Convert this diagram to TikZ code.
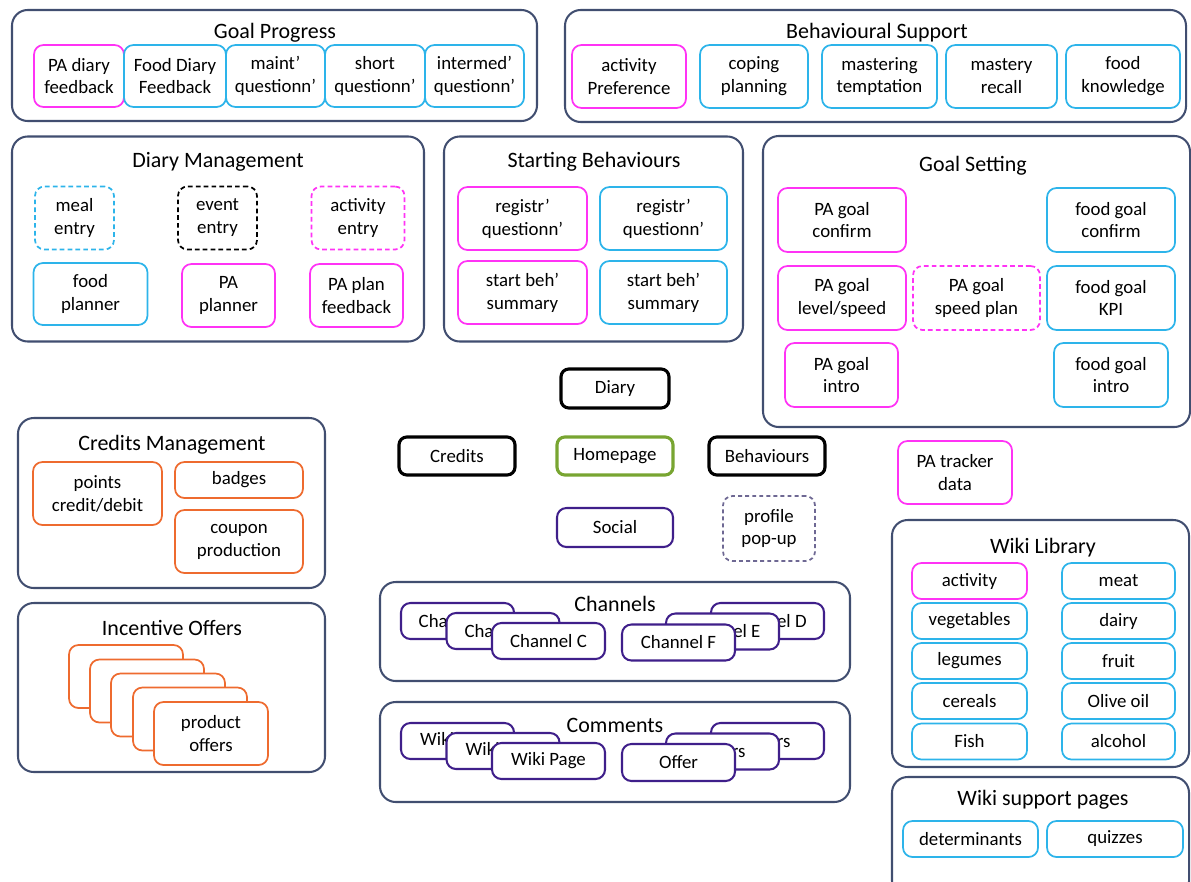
\documentclass[tikz,border=0pt]{standalone}
\usepackage{fontspec}
\setmainfont{Carlito}
\usepackage{tikz}
\usetikzlibrary{calc}
\definecolor{frame}{HTML}{414E70}
\definecolor{foodc}{HTML}{2DB4EA}
\definecolor{pac}{HTML}{FF33F5}
\definecolor{credc}{HTML}{EE6B2F}
\definecolor{socc}{HTML}{3F1F8A}
\definecolor{homec}{HTML}{78A531}
\definecolor{popc}{HTML}{6E6893}
\tikzset{
  sz/.style 2 args={minimum width=#1*0.0224cm, minimum height=#2*0.0224cm},
  area/.style={draw=frame, line width=1.3pt, rounded corners=10pt, inner sep=0pt},
  areatitle/.style={font=\fontsize{14}{16}\selectfont},
  box/.style={draw, fill=white, rounded corners=6pt, line width=1.1pt, align=center,
      inner sep=1pt, font=\fontsize{12}{14.6}\selectfont},
  food/.style={box, draw=foodc},
  pa/.style={box, draw=pac},
  cred/.style={box, draw=credc},
  soc/.style={box, draw=socc, line width=1.3pt},
  nav/.style={box, draw=black, line width=2pt, rounded corners=5pt},
  home/.style={nav, draw=homec},
  foodd/.style={food, dash pattern=on 3pt off 2pt},
  pad/.style={pa, dash pattern=on 3pt off 2pt},
  blackd/.style={box, draw=black, dash pattern=on 3pt off 2pt},
  popup/.style={box, draw=popc, dash pattern=on 2.5pt off 2pt},
}

\begin{document}
\begin{tikzpicture}[x=0.0224cm, y=-0.0224cm]
  \useasboundingbox (0,0) rectangle (1191,881);

  % goal progress
  \node[area, sz={525}{111}] (gp) at (274.5,65.5) {};
  \node[areatitle] (gpT) at (275,33) {Goal Progress};
  \node[pa, sz={90}{62}] (pdf) at (79,76) {PA diary\\feedback};
  \node[food, sz={102}{62}] (fdf) at (175,76) {Food Diary\\Feedback};
  \node[food, sz={99}{62}] (mq) at (275.5,76) {maint’\\questionn’};
  \node[food, sz={100}{62}] (sq) at (375,76) {short\\questionn’};
  \node[food, sz={99}{62}] (iq) at (474.5,76) {intermed’\\questionn’};

  % behavioural support
  \node[area, sz={621}{112}] (bs) at (875.5,66) {};
  \node[areatitle] (bsT) at (877,33) {Behavioural Support};
  \node[pa, sz={114}{63}] (ap) at (629,76.5) {activity\\Preference};
  \node[food, sz={108}{63}] (cp) at (754,76.5) {coping\\planning};
  \node[food, sz={115}{63}] (mt) at (879.5,76.5) {mastering\\temptation};
  \node[food, sz={111}{63}] (mr) at (1001.5,76.5) {mastery\\recall};
  \node[food, sz={114}{63}] (fk) at (1123,76.5) {food\\knowledge};

  % diary management
  \node[area, sz={412}{205}] (dm) at (218,239) {};
  \node[areatitle] (dmT) at (218,162) {Diary Management};
  \node[foodd, sz={79}{63}] (me) at (74.5,218) {meal\\entry};
  \node[blackd, sz={79}{63}] (ee) at (217.5,218) {event\\entry};
  \node[pad, sz={93}{63}] (ae) at (358,218) {activity\\entry};
  \node[food, sz={114}{62}] (fp) at (90.5,294) {food\\planner};
  \node[pa, sz={93}{63}] (pp) at (228.5,295.5) {PA\\planner};
  \node[pa, sz={93}{63}] (ppf) at (356.5,295.5) {PA plan\\feedback};

  % starting behaviours
  \node[area, sz={299}{205}] (sb) at (593.5,239) {};
  \node[areatitle] (sbT) at (594,162) {Starting Behaviours};
  \node[pa, sz={129}{63}] (rqm) at (522.5,218.5) {registr’\\questionn’};
  \node[food, sz={127}{63}] (rqc) at (663.5,218.5) {registr’\\questionn’};
  \node[pa, sz={129}{63}] (sbm) at (522.5,292.5) {start beh’\\summary};
  \node[food, sz={127}{63}] (sbc) at (663.5,292.5) {start beh’\\summary};

  % goal setting
  \node[area, sz={427}{291}] (gs) at (976.5,281.5) {};
  \node[areatitle] (gsT) at (973,166) {Goal Setting};
  \node[pa, sz={128}{64}] (pgc) at (842,220) {PA goal\\confirm};
  \node[food, sz={128}{64}] (fgc) at (1111,220) {food goal\\confirm};
  \node[pa, sz={128}{64}] (pgl) at (842,298) {PA goal\\level/speed};
  \node[pad, sz={127}{64}] (pgs) at (976.5,298) {PA goal\\speed plan};
  \node[food, sz={128}{64}] (fgk) at (1111,298) {food goal\\KPI};
  \node[pa, sz={113}{64}] (pgi) at (841.5,375) {PA goal\\intro};
  \node[food, sz={114}{64}] (fgi) at (1111,375) {food goal\\intro};

  % main navigation
  \node[nav, sz={108}{39}] (diary) at (615,388.5) {Diary};
  \node[nav, sz={116}{38}] (credits) at (457,456) {Credits};
  \node[home, sz={116}{38}] (homepage) at (615,456) {Homepage};
  \node[nav, sz={116}{38}] (behav) at (767,456) {Behaviours};
  \node[soc, sz={116}{39}] (social) at (615,527.5) {Social};
  \node[popup, sz={92}{65}] (profile) at (769,528.5) {profile\\pop-up};
  \node[pa, sz={114}{63}] (tracker) at (955,472.5) {PA tracker\\data};

  % credits management
  \node[area, sz={307}{170}] (cm) at (171.5,503) {};
  \node[areatitle] (cmT) at (172,445) {Credits Management};
  \node[cred, sz={129}{63}] (points) at (97.5,493.5) {points\\credit/debit};
  \node[cred, sz={128}{36}] (badges) at (239,480) {badges};
  \node[cred, sz={128}{63}] (coupon) at (239,541.5) {coupon\\production};

  % incentive offers (stacked cards)
  \node[area, sz={307}{169}] (io) at (171.5,687.5) {};
  \node[areatitle] (ioT) at (172,628) {Incentive Offers};
  \node[cred, sz={114}{63}] (offA) at (126,676.5) {};
  \node[cred, sz={114}{63}] (offB) at (147,691) {};
  \node[cred, sz={114}{63}] (offC) at (168,705) {};
  \node[cred, sz={114}{63}] (offD) at (190,719) {};
  \node[cred, sz={114}{63}] (offE) at (211,733.5) {product\\offers};

  % channels
  \node[area, sz={470}{99}] (ch) at (615,631.5) {};
  \node[areatitle] (chT) at (615,604) {Channels};
  \node[soc, sz={113}{36}] (chA) at (457.5,621) {Channel A};
  \node[soc, sz={113}{36}] (chB) at (503,631) {Channel B};
  \node[soc, sz={113}{36}] (chC) at (548.5,641) {Channel C};
  \node[soc, sz={113}{36}] (chD) at (767.5,621) {Channel D};
  \node[soc, sz={113}{36}] (chE) at (722.5,631.5) {Channel E};
  \node[soc, sz={113}{36}] (chF) at (678.5,642.5) {Channel F};

  % comments
  \node[area, sz={470}{100}] (co) at (615,752) {};
  \node[areatitle] (coT) at (615,725) {Comments};
  \node[soc, sz={113}{36}] (wpA) at (457.5,741) {Wiki Page};
  \node[soc, sz={113}{36}] (wpB) at (503,751) {Wiki Page};
  \node[soc, sz={113}{36}] (wpC) at (548.5,761) {Wiki Page};
  \node[soc, sz={113}{36}] (ofA) at (767.5,741) {Offers};
  \node[soc, sz={113}{36}] (ofB) at (722.5,751.5) {Offers};
  \node[soc, sz={113}{37}] (ofC) at (678.5,762.5) {Offer};

  % wiki library
  \node[area, sz={297}{247}] (wl) at (1040.5,643.5) {};
  \node[areatitle] (wlT) at (1043,548) {Wiki Library};
  \node[pa, sz={115}{36}] (wact) at (969.5,581) {activity};
  \node[food, sz={115}{36}] (wveg) at (969.5,621) {vegetables};
  \node[food, sz={115}{36}] (wleg) at (969.5,661) {legumes};
  \node[food, sz={115}{36}] (wcer) at (969.5,701) {cereals};
  \node[food, sz={115}{36}] (wfish) at (969.5,741.5) {Fish};
  \node[food, sz={113}{36}] (wmeat) at (1118.5,581) {meat};
  \node[food, sz={113}{36}] (wdai) at (1118.5,621) {dairy};
  \node[food, sz={113}{36}] (wfru) at (1118.5,661) {fruit};
  \node[food, sz={113}{36}] (woil) at (1118.5,701) {Olive oil};
  \node[food, sz={113}{36}] (walc) at (1118.5,741.5) {alcohol};

  % wiki support pages
  \node[area, sz={297}{120}] (ws) at (1040.5,837) {};
  \node[areatitle] (wsT) at (1043,800) {Wiki support pages};
  \node[food, sz={135}{36}] (det) at (970.5,839) {determinants};
  \node[food, sz={136}{36}] (quiz) at (1115,839) {quizzes};
\end{tikzpicture}
\end{document}
